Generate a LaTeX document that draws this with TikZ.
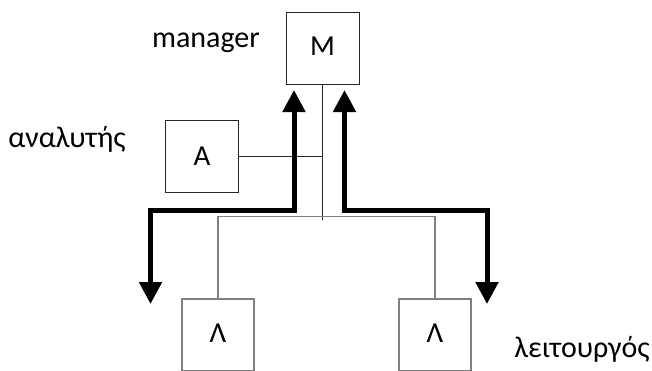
\documentclass[tikz,border=0pt]{standalone}
\usepackage{fontspec}
\setmainfont{Carlito}
\usetikzlibrary{arrows.meta}
\tikzset{
  boxm/.style={draw=black!85, line width=0.9pt, minimum width=73pt, minimum height=72pt, inner sep=0pt, font=\fontsize{29}{32}\selectfont},
  boxl/.style={draw=black!50, line width=1.2pt, minimum width=72pt, minimum height=72pt, inner sep=0pt, font=\fontsize{29}{32}\selectfont},
  lbl/.style={inner sep=0pt, font=\fontsize{30}{33}\selectfont},
  thinl/.style={draw=black!85, line width=0.9pt},
  grayl/.style={draw=black!50, line width=1.3pt},
  bigarrow/.style={line width=5pt, {Triangle[length=22pt,width=22pt]}-{Triangle[length=22pt,width=22pt]}}
}
\begin{document}
\begin{tikzpicture}[x=1pt,y=-1pt]
\useasboundingbox (0,0) rectangle (652,370);
% boxes
\node[boxm] (M) at (322.5,48) {\raisebox{4pt}{M}\hspace{6pt}};
\node[boxm] (A) at (202,156.5) {\raisebox{1pt}{A}\hspace{4pt}};
\node[boxl] (L1) at (218,335) {\raisebox{4pt}{Λ}\hspace{14pt}};
\node[boxl] (L2) at (435,335) {\raisebox{4pt}{Λ}\hspace{14pt}};
% labels
\node[lbl] (tm) at (206,43) {manager};
\node[lbl] (ta) at (67,139) {αναλυτής};
\node[lbl] (tl) at (582,349) {λειτουργός};
% thin connectors
\coordinate (jn) at (322.5,220);
\draw[thinl] (M.south) -- (jn);
\draw[thinl] (A.east) -- (A.east -| M.south);
\draw[grayl] (L1.north) -- ++(0,-82) -| (L2.north);
% thick arrows
\coordinate (la1) at (294,90);
\coordinate (la2) at (150.5,304);
\coordinate (ra1) at (344.5,90);
\coordinate (ra2) at (487,304);
\draw[bigarrow] (la1) -- (294,210) -| (la2);
\draw[bigarrow] (ra1) -- (344.5,210) -| (ra2);
\end{tikzpicture}
\end{document}
